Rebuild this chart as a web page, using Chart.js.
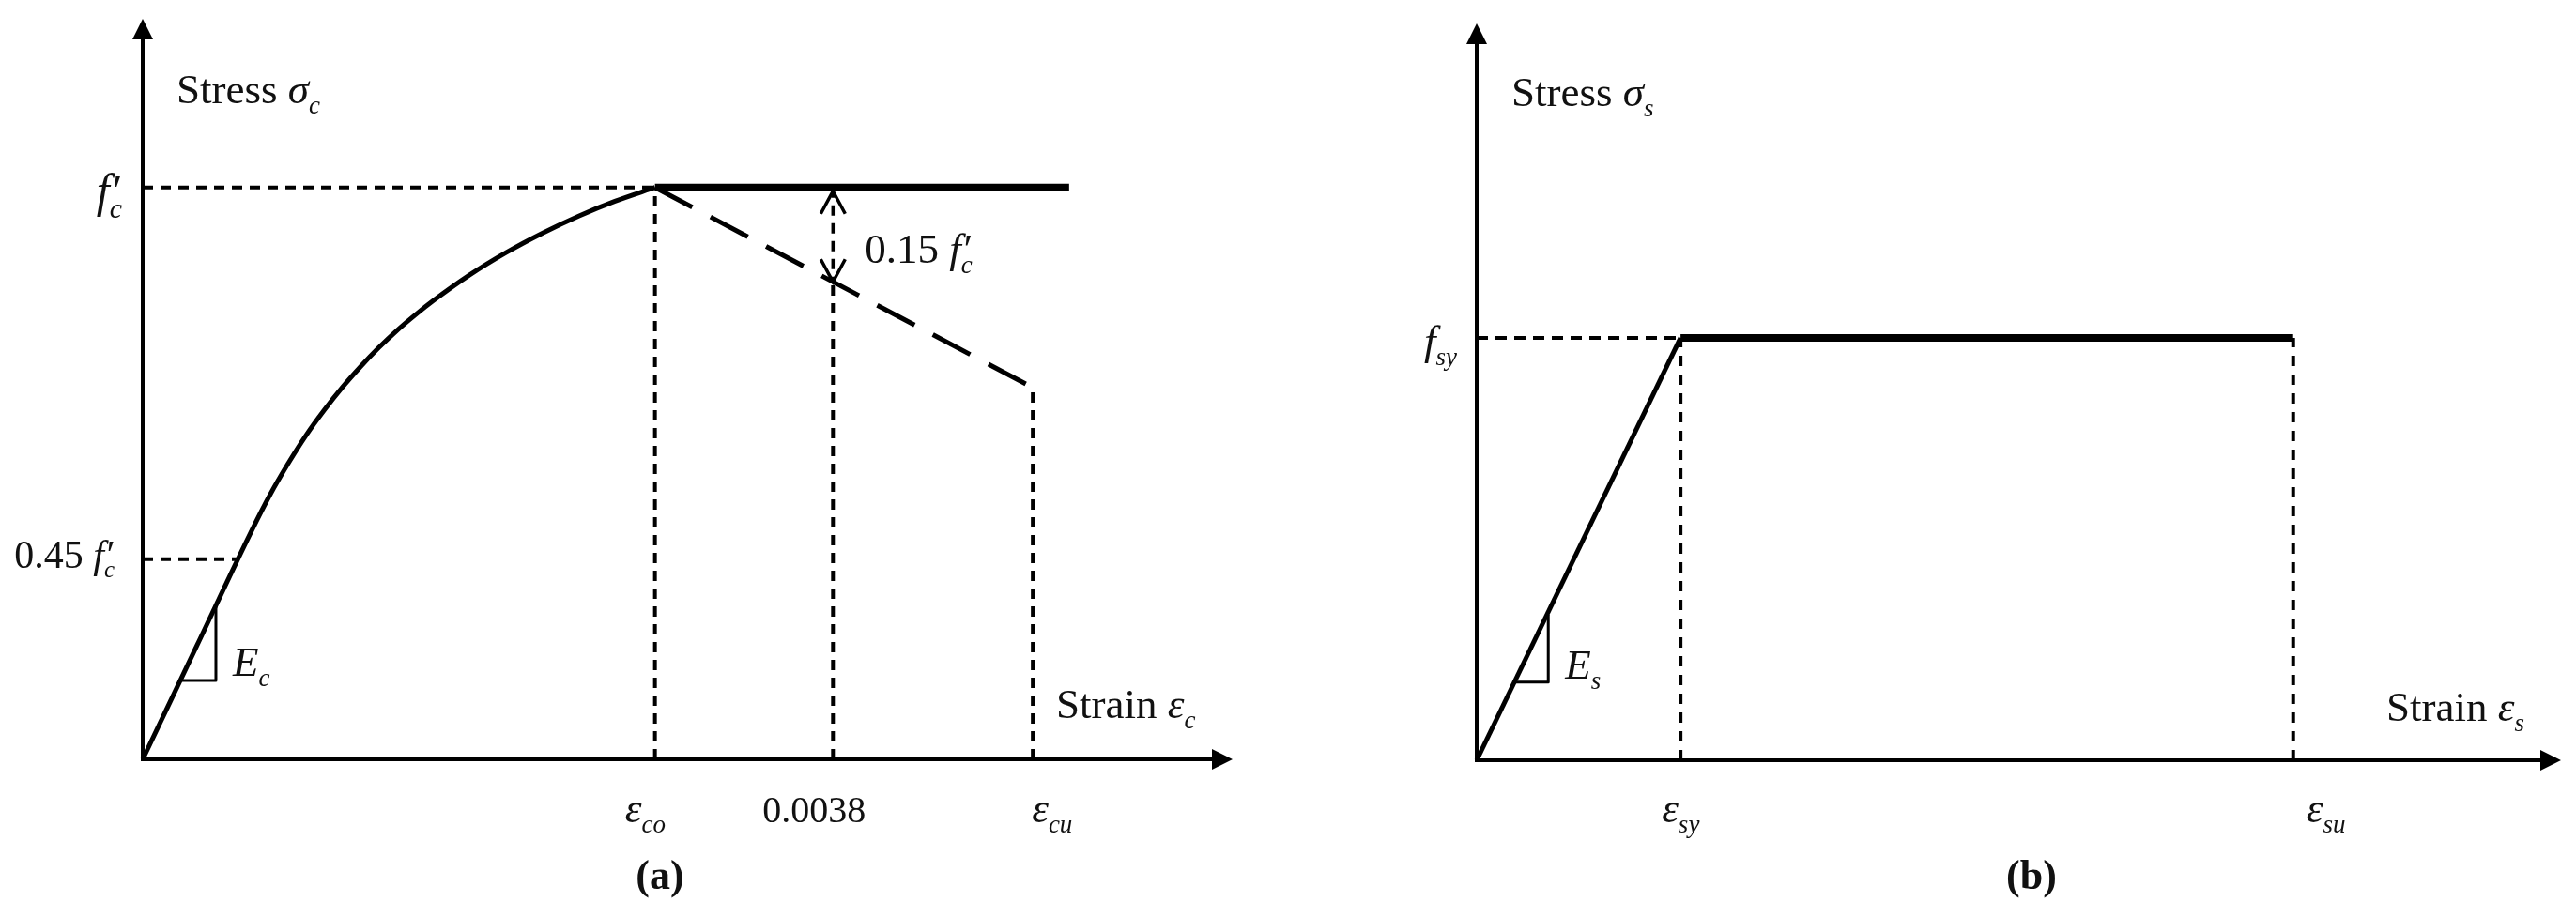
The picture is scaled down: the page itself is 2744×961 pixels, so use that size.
<!DOCTYPE html>
<html lang="en">
<head>
<meta charset="UTF-8">
<title>Stress-strain models</title>
<script src="https://cdn.jsdelivr.net/npm/chart.js@4.4.0/dist/chart.umd.min.js"></script>
<style>
  html, body { margin: 0; padding: 0; background: #fff; }
  .panel { position: absolute; top: 0; width: 1372px; height: 961px; }
  #panelA { left: 0; }
  #panelB { left: 1372px; }
</style>
</head>
<body>
<div class="panel" id="panelA"><canvas id="concreteChart"></canvas></div>
<div class="panel" id="panelB"><canvas id="steelChart"></canvas></div>

<script>
// (a) concrete: strain vs stress / f'c
const concreteCurveX = [0, 0.0003, 0.0006, 0.0007, 0.0008, 0.0009, 0.001, 0.0011, 0.0012, 0.0013, 0.0014, 0.0015, 0.0016, 0.0018, 0.002, 0.0022, 0.0024, 0.0026, 0.00282];
const concreteCurveY = [0, 0.2, 0.400, 0.462, 0.517, 0.567, 0.611, 0.651, 0.687, 0.720, 0.750, 0.777, 0.802, 0.847, 0.886, 0.920, 0.950, 0.976, 1.0];
const concretePlateauX = [0.00282, 0.0051];
const concretePlateauY = [1, 1];
const concreteSoftX = [0.00282, 0.0049];
const concreteSoftY = [1, 0.65];
const concreteTickX = [0.00282, 0.0038, 0.0049];
const concreteTickTop = [1, 0.835, 0.65];
const concreteTickLabels = [[['ε', 'i'], ['co', 'sub']], [['0.0038', 'r']], [['ε', 'i'], ['cu', 'sub']]];
const concreteLevelY = [1, 0.35];
const concreteLevelEnd = [0.00282, 0.000525];
const concreteLevelLabels = [[['f', 'i'], ['′', 'sup'], ['c', 'sub']], [['0.45 ', 'r'], ['f', 'i'], ['′', 'sup'], ['c', 'sub']]];
const concreteSlopeX = [0.00021, 0.000403, 0.000403];
const concreteSlopeY = [0.138, 0.138, 0.269];
const concreteGapX = [0.0038, 0.0038];
const concreteGapY = [1, 0.835];

// (b) steel: relative strain vs stress / fsy
const steelElasticX = [0, 0.188];
const steelElasticY = [0, 1];
const steelPlateauX = [0.188, 0.753];
const steelPlateauY = [1, 1];
const steelTickX = [0.188, 0.753];
const steelTickTop = [1, 1];
const steelTickLabels = [[['ε', 'i'], ['sy', 'sub']], [['ε', 'i'], ['su', 'sub']]];
const steelLevelY = [1];
const steelLevelEnd = [0.188];
const steelLevelLabels = [[['f', 'i'], ['sy', 'sub']]];
const steelSlopeX = [0.035, 0.066, 0.066];
const steelSlopeY = [0.185, 0.185, 0.345];

const SERIF = '"Liberation Serif", "Times New Roman", serif';

function seg(xs, ys, width, dash, smooth) {
    return {
        data: xs.map((x, i) => ({ x: x, y: ys[i] })),
        showLine: true,
        borderColor: '#000',
        borderWidth: width,
        borderDash: dash || [],
        borderCapStyle: 'butt',
        borderJoinStyle: 'round',
        pointRadius: 0,
        fill: false,
        clip: false,
        cubicInterpolationMode: smooth ? 'monotone' : 'default'
    };
}

function drawMath(ctx, x, y, parts, align, size) {
    size = size || 45;
    const font = k => {
        if (k === 'sub') return `italic ${Math.round(size * 0.6)}px ${SERIF}`;
        if (k === 'i' || k === 'sup') return `italic ${size}px ${SERIF}`;
        if (k === 'b') return `bold ${size}px ${SERIF}`;
        return `${size}px ${SERIF}`;
    };
    const layout = [];
    let cx = 0, supStart = null;
    parts.forEach(([text, kind]) => {
        ctx.font = font(kind);
        const w = ctx.measureText(text).width;
        let sx = cx;
        if (kind === 'sub' && supStart !== null) sx = supStart;
        if (kind === 'sup') supStart = cx; else supStart = null;
        layout.push({ text, kind, sx, dy: kind === 'sub' ? size * 0.25 : 0 });
        cx = Math.max(cx, sx + w);
    });
    const ox = align === 'right' ? x - cx : align === 'center' ? x - cx / 2 : x;
    ctx.save();
    ctx.fillStyle = '#111';
    ctx.textAlign = 'left';
    ctx.textBaseline = 'alphabetic';
    layout.forEach(p => {
        ctx.font = font(p.kind);
        ctx.fillText(p.text, ox + p.sx, y + p.dy);
    });
    ctx.restore();
}

function drawAxes(ctx, area) {
    ctx.save();
    ctx.strokeStyle = '#000';
    ctx.fillStyle = '#000';
    ctx.lineWidth = 4;
    ctx.beginPath();
    ctx.moveTo(area.left, area.bottom + 2);
    ctx.lineTo(area.left, area.top + 18);
    ctx.moveTo(area.left - 2, area.bottom);
    ctx.lineTo(area.right - 18, area.bottom);
    ctx.stroke();
    ctx.beginPath();
    ctx.moveTo(area.left, area.top);
    ctx.lineTo(area.left - 11, area.top + 22);
    ctx.lineTo(area.left + 11, area.top + 22);
    ctx.closePath();
    ctx.moveTo(area.right, area.bottom);
    ctx.lineTo(area.right - 22, area.bottom - 11);
    ctx.lineTo(area.right - 22, area.bottom + 11);
    ctx.closePath();
    ctx.fill();
    ctx.restore();
}

function makeOptions(xMax, yMax, pad) {
    return {
        responsive: true,
        maintainAspectRatio: false,
        animation: false,
        layout: { padding: pad },
        plugins: { legend: { display: false }, tooltip: { enabled: false } },
        scales: {
            x: { type: 'linear', min: 0, max: xMax, display: false },
            y: { type: 'linear', min: 0, max: yMax, display: false }
        }
    };
}

// ---------- (a) concrete ----------
const concreteSets = [];
concreteLevelY.forEach((v, i) => concreteSets.push(seg([0, concreteLevelEnd[i]], [v, v], 4, [11, 8])));
concreteTickX.forEach((v, i) => concreteSets.push(seg([v, v], [0, concreteTickTop[i]], 4, [11, 8])));
concreteSets.push(seg(concreteGapX, concreteGapY, 3.5, [11, 8]));
concreteSets.push(seg(concreteSoftX, concreteSoftY, 5, [45, 22]));
concreteSets.push(seg(concreteSlopeX, concreteSlopeY, 3));
concreteSets.push(seg(concreteCurveX, concreteCurveY, 5, null, true));
concreteSets.push(seg(concretePlateauX, concretePlateauY, 8));

const concreteDecor = {
    id: 'concreteDecor',
    afterDatasetsDraw(chart) {
        const ctx = chart.ctx, a = chart.chartArea;
        const px = v => chart.scales.x.getPixelForValue(v);
        const py = v => chart.scales.y.getPixelForValue(v);
        drawAxes(ctx, a);

        // open arrow heads on the 0.15 f'c gap
        const gx = px(concreteGapX[0]), gTop = py(concreteGapY[0]) + 4, gBot = py(concreteGapY[1]);
        ctx.save();
        ctx.strokeStyle = '#000';
        ctx.lineWidth = 3.5;
        ctx.beginPath();
        ctx.moveTo(gx - 13, gTop + 24); ctx.lineTo(gx, gTop); ctx.lineTo(gx + 13, gTop + 24);
        ctx.moveTo(gx - 13, gBot - 24); ctx.lineTo(gx, gBot); ctx.lineTo(gx + 13, gBot - 24);
        ctx.stroke();
        ctx.restore();

        drawMath(ctx, a.left + 36, a.top + 90, [['Stress ', 'r'], ['σ', 'i'], ['c', 'sub']]);
        drawMath(ctx, a.right - 188, a.bottom - 44, [['Strain ', 'r'], ['ε', 'i'], ['c', 'sub']]);
        drawMath(ctx, a.left - 22, py(concreteLevelY[0]) + 20, concreteLevelLabels[0], 'right', 50);
        drawMath(ctx, a.left - 30, py(concreteLevelY[1]) + 9, concreteLevelLabels[1], 'right', 42);
        const tickDx = [-32, -75, -1];
        concreteTickX.forEach((v, i) => drawMath(ctx, px(v) + tickDx[i], a.bottom + 67, concreteTickLabels[i], 'left', i === 1 ? 40 : 45));
        drawMath(ctx, gx + 34, py(1) + 80, [['0.15 ', 'r'], ['f', 'i'], ['′', 'sup'], ['c', 'sub']]);
        drawMath(ctx, px(concreteSlopeX[1]) + 18, py(concreteSlopeY[1]) - 5, [['E', 'i'], ['c', 'sub']]);
        drawMath(ctx, 703, 947, [['(a)', 'b']], 'center', 44);
    }
};

new Chart(document.getElementById('concreteChart'), {
    type: 'scatter',
    data: { datasets: concreteSets },
    options: makeOptions(0.006, 1.295, { left: 152, right: 59, top: 20, bottom: 152 }),
    plugins: [concreteDecor]
});

// ---------- (b) steel ----------
const steelSets = [];
steelLevelY.forEach((v, i) => steelSets.push(seg([0, steelLevelEnd[i]], [v, v], 4, [12, 8])));
steelTickX.forEach((v, i) => steelSets.push(seg([v, v], [0, steelTickTop[i]], 4, [11, 9])));
steelSets.push(seg(steelSlopeX, steelSlopeY, 3));
steelSets.push(seg(steelElasticX, steelElasticY, 5));
steelSets.push(seg(steelPlateauX, steelPlateauY, 8));

const steelDecor = {
    id: 'steelDecor',
    afterDatasetsDraw(chart) {
        const ctx = chart.ctx, a = chart.chartArea;
        const px = v => chart.scales.x.getPixelForValue(v);
        const py = v => chart.scales.y.getPixelForValue(v);
        drawAxes(ctx, a);
        drawMath(ctx, a.left + 37, a.top + 88, [['Stress ', 'r'], ['σ', 'i'], ['s', 'sub']]);
        drawMath(ctx, a.right - 186, a.bottom - 42, [['Strain ', 'r'], ['ε', 'i'], ['s', 'sub']]);
        drawMath(ctx, a.left - 21, py(steelLevelY[0]) + 18, steelLevelLabels[0], 'right');
        const tickDx = [-20, 14];
        steelTickX.forEach((v, i) => drawMath(ctx, px(v) + tickDx[i], a.bottom + 66, steelTickLabels[i], 'left'));
        drawMath(ctx, px(steelSlopeX[1]) + 18, py(steelSlopeY[1]) - 4, [['E', 'i'], ['s', 'sub']]);
        drawMath(ctx, 792, 947, [['(b)', 'b']], 'center', 44);
    }
};

new Chart(document.getElementById('steelChart'), {
    type: 'scatter',
    data: { datasets: steelSets },
    options: makeOptions(1, 1.744, { left: 201, right: 16, top: 25, bottom: 151 }),
    plugins: [steelDecor]
});
</script>
</body>
</html>
